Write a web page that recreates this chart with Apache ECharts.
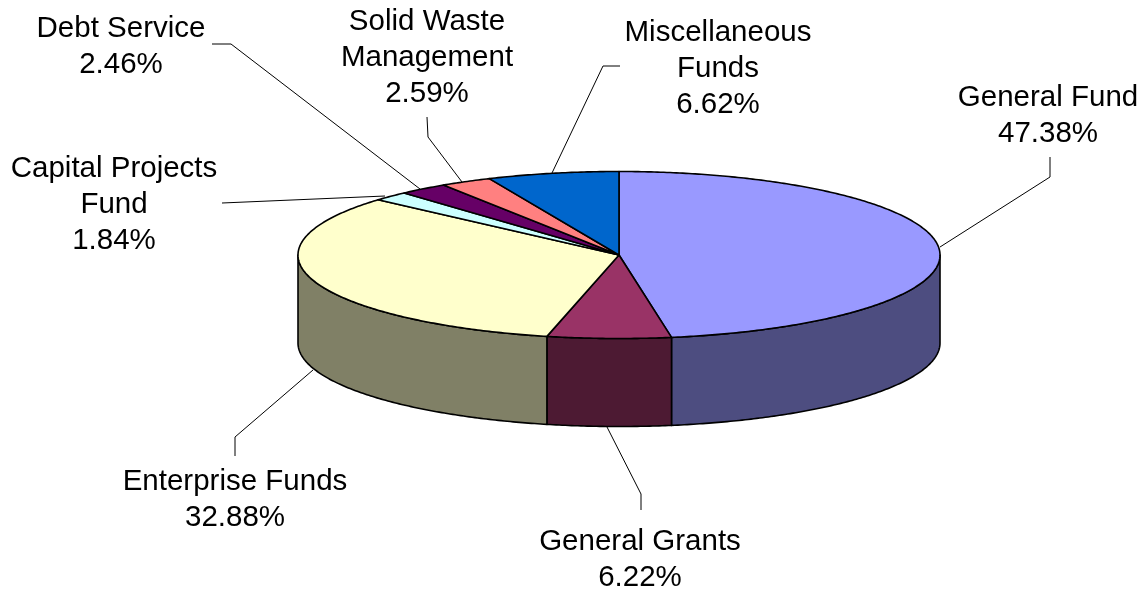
<!DOCTYPE html>
<html><head><meta charset="utf-8">
<style>html,body{margin:0;padding:0;background:#fff}#c{width:1146px;height:589px}</style>
<script src="https://cdn.jsdelivr.net/npm/echarts@6/dist/echarts.min.js"></script>
</head><body><div id="c"></div>
<script>
const categories = ['General Fund','General Grants','Enterprise Funds','Capital Projects\nFund','Debt Service','Solid Waste\nManagement','Miscellaneous\nFunds'];
const values = [47.38,6.22,32.88,1.84,2.46,2.59,6.62];
const topColors = ['#9999FF','#993366','#FFFFCC','#CCFFFF','#660066','#FF8080','#0066CC'];
const wallColors = ['#4D4D80','#4D1A33','#808066','#668080','#330033','#804040','#003366'];

// layout only (not data)
const pie = {cx:619, cy:255, rx:321, ry:83.5, depth:88};
const labelPos = [[1048,116],[640,560],[235,500],[114,205],[121,47],[427,58],[718,69]];
const leaders = [
  [[1050,157],[1050,177],[940,247]],
  [[641,510],[641,494],[607,427]],
  [[235,456],[235,437],[313,370]],
  [[222,203],[385,196]],
  [[212,44],[231,44],[420,189]],
  [[427,117],[428,137],[462,182]],
  [[620,66],[603,66],[552,173]]
];

const total = values.reduce((a,b)=>a+b,0);
const spans = []; let acc = 0;
values.forEach(v=>{ spans.push([acc/total*2*Math.PI,(acc+v)/total*2*Math.PI]); acc+=v; });
const ell = (a,dy)=>[pie.cx+pie.rx*Math.sin(a), pie.cy-pie.ry*Math.cos(a)+(dy||0)];
function arc(a0,a1,dy){ const n=Math.max(2,Math.ceil((a1-a0)/0.01)), p=[];
  for(let i=0;i<=n;i++) p.push(ell(a0+(a1-a0)*i/n,dy)); return p; }

const seriesData = values.map((v,i)=>({name:categories[i],value:v}));
const noAxis = {coordinateSystem:'none', silent:true, animation:false};
const option = {
  backgroundColor:'#fff',
  series:[
    Object.assign({type:'custom',z:1,data:seriesData,renderItem(p,api){
      const i=p.dataIndex; const a0=Math.max(spans[i][0],Math.PI/2), a1=Math.min(spans[i][1],Math.PI*1.5);
      if(a1<=a0) return {type:'group',children:[]};
      const front=arc(a0,a1,0), back=arc(a0,a1,pie.depth).reverse();
      return {type:'polygon',shape:{points:front.concat(back)},
        style:{fill:wallColors[i],stroke:'#000',lineWidth:1.6,lineJoin:'round'}};
    }},noAxis),
    Object.assign({type:'custom',z:2,data:seriesData,renderItem(p,api){
      const i=p.dataIndex;
      return {type:'polygon',shape:{points:[[pie.cx,pie.cy]].concat(arc(spans[i][0],spans[i][1],0))},
        style:{fill:topColors[i],stroke:'#000',lineWidth:1.6,lineJoin:'round'}};
    }},noAxis),
    Object.assign({type:'custom',z:3,data:seriesData,renderItem(p,api){
      const i=p.dataIndex;
      return {type:'group',children:[
        {type:'polyline',shape:{points:leaders[i]},style:{fill:'none',stroke:'#000',lineWidth:1}},
        {type:'text',x:labelPos[i][0],y:labelPos[i][1],style:{
          text:categories[i]+'\n'+values[i].toFixed(2)+'%',
          font:'29.5px "Liberation Sans", Arial, sans-serif',lineHeight:36,fill:'#000',align:'center',verticalAlign:'middle'}}
      ]};
    }},noAxis)
  ]
};
const chart = echarts.init(document.getElementById('c'),null,{renderer:'canvas'});
chart.setOption(option);
</script></body></html>
